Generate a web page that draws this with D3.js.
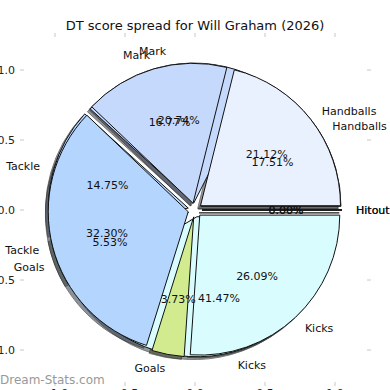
<!DOCTYPE html>
<html lang="en">
<head>
  <meta charset="utf-8">
  <script src="https://cdn.jsdelivr.net/npm/d3@7"></script>
  <style>
    body { margin: 0; background: #fff; }
    text { font-family: "DejaVu Sans", sans-serif; }
  </style>
</head>
<body>
<script>
// two seasons of DT score share, drawn on top of each other
const categories = ["Handballs", "Mark", "Tackle", "Goals", "Kicks", "Hitout"];
const seriesA = [17.51, 20.74, 14.75, 5.53, 41.47, 0.00];
const seriesB = [21.12, 16.77, 32.30, 3.73, 26.09, 0.00];
const colors = ["#eaf1fe", "#c5d9fd", "#b4d5fe", "#d1eb8e", "#d9fdfe", "#c8c8ff"];
const xTicks = [-1.0, -0.5, 0.0, 0.5, 1.0];
const yTicks = [1.0, 0.5, 0.0, -0.5, -1.0];
const title = "DT score spread for Will Graham (2026)";

const w = 390, h = 390;
const explode = 0.05;

const x = d3.scaleLinear().domain([-1, 1]).range([55, 335]);
const y = d3.scaleLinear().domain([-1, 1]).range([350, 70]);
const R = x(1) - x(0);

const svg = d3.select("body").append("svg")
  .attr("width", w).attr("height", h);

svg.append("text")
  .attr("x", 195).attr("y", 30)
  .attr("text-anchor", "middle")
  .attr("font-size", 13)
  .attr("fill", "#111")
  .text(title);

// ticks on all four sides, no spines
const tickCol = "#c8c8c8";
xTicks.forEach(t => {
  svg.append("line").attr("x1", x(t)).attr("x2", x(t)).attr("y1", 33).attr("y2", 37)
    .attr("stroke", tickCol).attr("stroke-width", 1);
  svg.append("line").attr("x1", x(t)).attr("x2", x(t)).attr("y1", 382).attr("y2", 386)
    .attr("stroke", tickCol).attr("stroke-width", 1);
  svg.append("text").attr("x", x(t)).attr("y", 397)
    .attr("text-anchor", "middle").attr("font-size", 11).attr("fill", "#222")
    .text(d3.format(".1f")(t).replace("-", "\u2212"));
});
yTicks.forEach(t => {
  svg.append("line").attr("x1", 20).attr("x2", 24).attr("y1", y(t)).attr("y2", y(t))
    .attr("stroke", tickCol).attr("stroke-width", 1);
  svg.append("line").attr("x1", 367).attr("x2", 371).attr("y1", y(t)).attr("y2", y(t))
    .attr("stroke", tickCol).attr("stroke-width", 1);
  svg.append("text").attr("x", 15).attr("y", y(t)).attr("dy", "0.35em")
    .attr("text-anchor", "end").attr("font-size", 11).attr("fill", "#222")
    .text(d3.format(".1f")(t).replace("-", "\u2212"));
});

// counter-clockwise from east, like matplotlib
const pie = d3.pie().sort(null).startAngle(Math.PI / 2).endAngle(Math.PI / 2 - 2 * Math.PI);
const arc = d3.arc().innerRadius(0).outerRadius(R);

function prep(values) {
  return pie(values).map((d, i) => {
    const a = (d.startAngle + d.endAngle) / 2;
    return { arc: d, i: i, a: a, dx: Math.sin(a) * explode * R, dy: -Math.cos(a) * explode * R };
  });
}
const wedgesA = prep(seriesA);
const wedgesB = prep(seriesB);

const g = svg.append("g").attr("transform", `translate(${x(0)},${y(0)})`);

// shadows under everything
[wedgesA, wedgesB].forEach(ws => {
  g.selectAll(null).data(ws).enter().append("path")
    .attr("d", d => arc(d.arc))
    .attr("transform", d => `translate(${d.dx - 0.02 * R},${d.dy + 0.02 * R})`)
    .attr("fill", d => d3.color(colors[d.i]).darker(3))
    .attr("stroke", "#222")
    .attr("stroke-width", 1)
    .attr("opacity", 0.6);
});

[wedgesA, wedgesB].forEach(ws => {
  g.selectAll(null).data(ws).enter().append("path")
    .attr("d", d => arc(d.arc))
    .attr("transform", d => `translate(${d.dx},${d.dy})`)
    .attr("fill", d => colors[d.i])
    .attr("stroke", "#111")
    .attr("stroke-width", 1);
});

[[wedgesA, seriesA], [wedgesB, seriesB]].forEach(([ws, vals]) => {
  ws.forEach(d => {
    const lr = (1.1 + explode) * R;
    const lx = Math.sin(d.a) * lr, ly = -Math.cos(d.a) * lr;
    g.append("text")
      .attr("x", lx).attr("y", ly).attr("dy", "0.35em")
      .attr("text-anchor", lx > 0.001 ? "start" : "end")
      .attr("font-size", 11).attr("fill", "#111")
      .text(categories[d.i]);
    const pr = (0.6 + explode) * R;
    g.append("text")
      .attr("x", Math.sin(d.a) * pr).attr("y", -Math.cos(d.a) * pr).attr("dy", "0.35em")
      .attr("text-anchor", "middle")
      .attr("font-size", 11).attr("fill", "#111")
      .text(vals[d.i].toFixed(2) + "%");
  });
});

svg.append("text")
  .attr("x", 0).attr("y", 384)
  .attr("font-size", 12).attr("fill", "#999")
  .text("Dream-Stats.com");
</script>
</body>
</html>
